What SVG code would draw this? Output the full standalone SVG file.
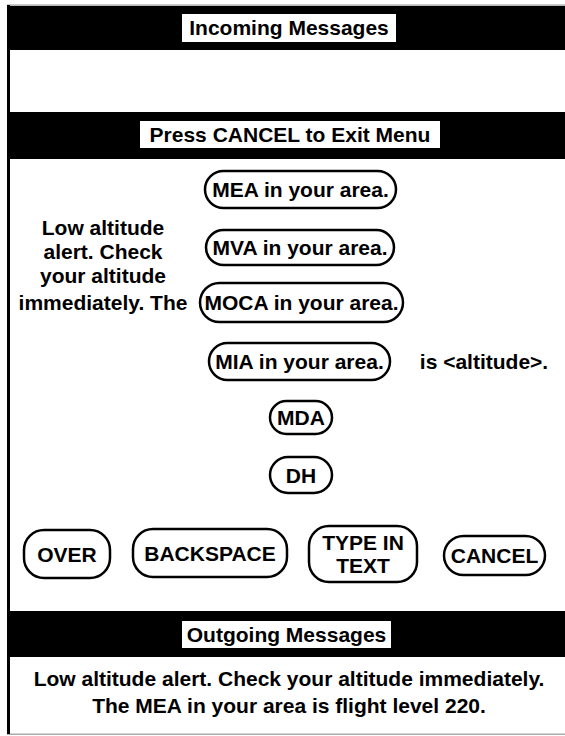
<svg xmlns="http://www.w3.org/2000/svg" width="565" height="736" viewBox="0 0 565 736">
<style>
  .t { font-family: "Liberation Sans", Arial, sans-serif; font-weight: bold; font-size: 21px; fill: #000; text-anchor: middle; }
  .pill { fill: #fff; stroke: #000; stroke-width: 2.5; }
  .band { fill: #000; }
  .lbl { fill: #fff; }
</style>
<rect x="0" y="0" width="565" height="736" fill="#fff"/>
<g id="frame">
  <rect x="7" y="4.5" width="558" height="1.2" fill="#999"/>
  <rect x="7" y="733.5" width="558" height="1.5" fill="#aaa"/>
  <rect x="7" y="5" width="3" height="729" fill="#000"/>
</g>
<g id="incoming">
  <rect class="band" x="7" y="6" width="558" height="44"/>
  <rect class="lbl" x="182" y="14" width="214" height="28"/>
  <text class="t" x="289" y="35">Incoming Messages</text>
</g>
<g id="menu-header">
  <rect class="band" x="7" y="112" width="558" height="47"/>
  <rect class="lbl" x="140" y="121" width="300" height="27"/>
  <text class="t" x="290" y="142">Press CANCEL to Exit Menu</text>
</g>
<g id="prefix">
  <text class="t" x="103" y="235">Low altitude</text>
  <text class="t" x="103" y="259">alert. Check</text>
  <text class="t" x="103" y="283">your altitude</text>
  <text class="t" x="103" y="310">immediately. The</text>
</g>
<g id="mea">
  <rect class="pill" x="205" y="171" width="191" height="37" rx="18.5"/>
  <text class="t" x="300.5" y="197">MEA in your area.</text>
</g>
<g id="mva">
  <rect class="pill" x="206" y="230" width="188" height="35" rx="17.5"/>
  <text class="t" x="300" y="255">MVA in your area.</text>
</g>
<g id="moca">
  <rect class="pill" x="200" y="283" width="203" height="39" rx="19.5"/>
  <text class="t" x="301.5" y="310">MOCA in your area.</text>
</g>
<g id="mia">
  <rect class="pill" x="209" y="343" width="181" height="37" rx="18.5"/>
  <text class="t" x="299.5" y="369">MIA in your area.</text>
</g>
<g id="suffix">
  <text class="t" x="484" y="369">is &lt;altitude&gt;.</text>
</g>
<g id="mda">
  <rect class="pill" x="270" y="401" width="62" height="33" rx="16.5"/>
  <text class="t" x="301" y="425">MDA</text>
</g>
<g id="dh">
  <rect class="pill" x="270" y="457" width="62" height="36" rx="18"/>
  <text class="t" x="301" y="483">DH</text>
</g>
<g id="over">
  <rect class="pill" x="24" y="530" width="86" height="48" rx="20"/>
  <text class="t" x="67" y="562">OVER</text>
</g>
<g id="backspace">
  <rect class="pill" x="133" y="529" width="154" height="48" rx="20"/>
  <text class="t" x="210" y="561">BACKSPACE</text>
</g>
<g id="type-in-text">
  <rect class="pill" x="309" y="526" width="108" height="56" rx="20"/>
  <text class="t" x="363" y="550">TYPE IN</text>
  <text class="t" x="363" y="573">TEXT</text>
</g>
<g id="cancel">
  <rect class="pill" x="444" y="536" width="101" height="39" rx="19.5"/>
  <text class="t" x="494.5" y="563">CANCEL</text>
</g>
<g id="outgoing">
  <rect class="band" x="7" y="611" width="558" height="46"/>
  <rect class="lbl" x="182" y="621" width="209" height="27"/>
  <text class="t" x="286.5" y="642">Outgoing Messages</text>
  <text class="t" x="289" y="686">Low altitude alert. Check your altitude immediately.</text>
  <text class="t" x="289" y="713">The MEA in your area is flight level 220.</text>
</g>
<g id="connectors"></g>
</svg>
